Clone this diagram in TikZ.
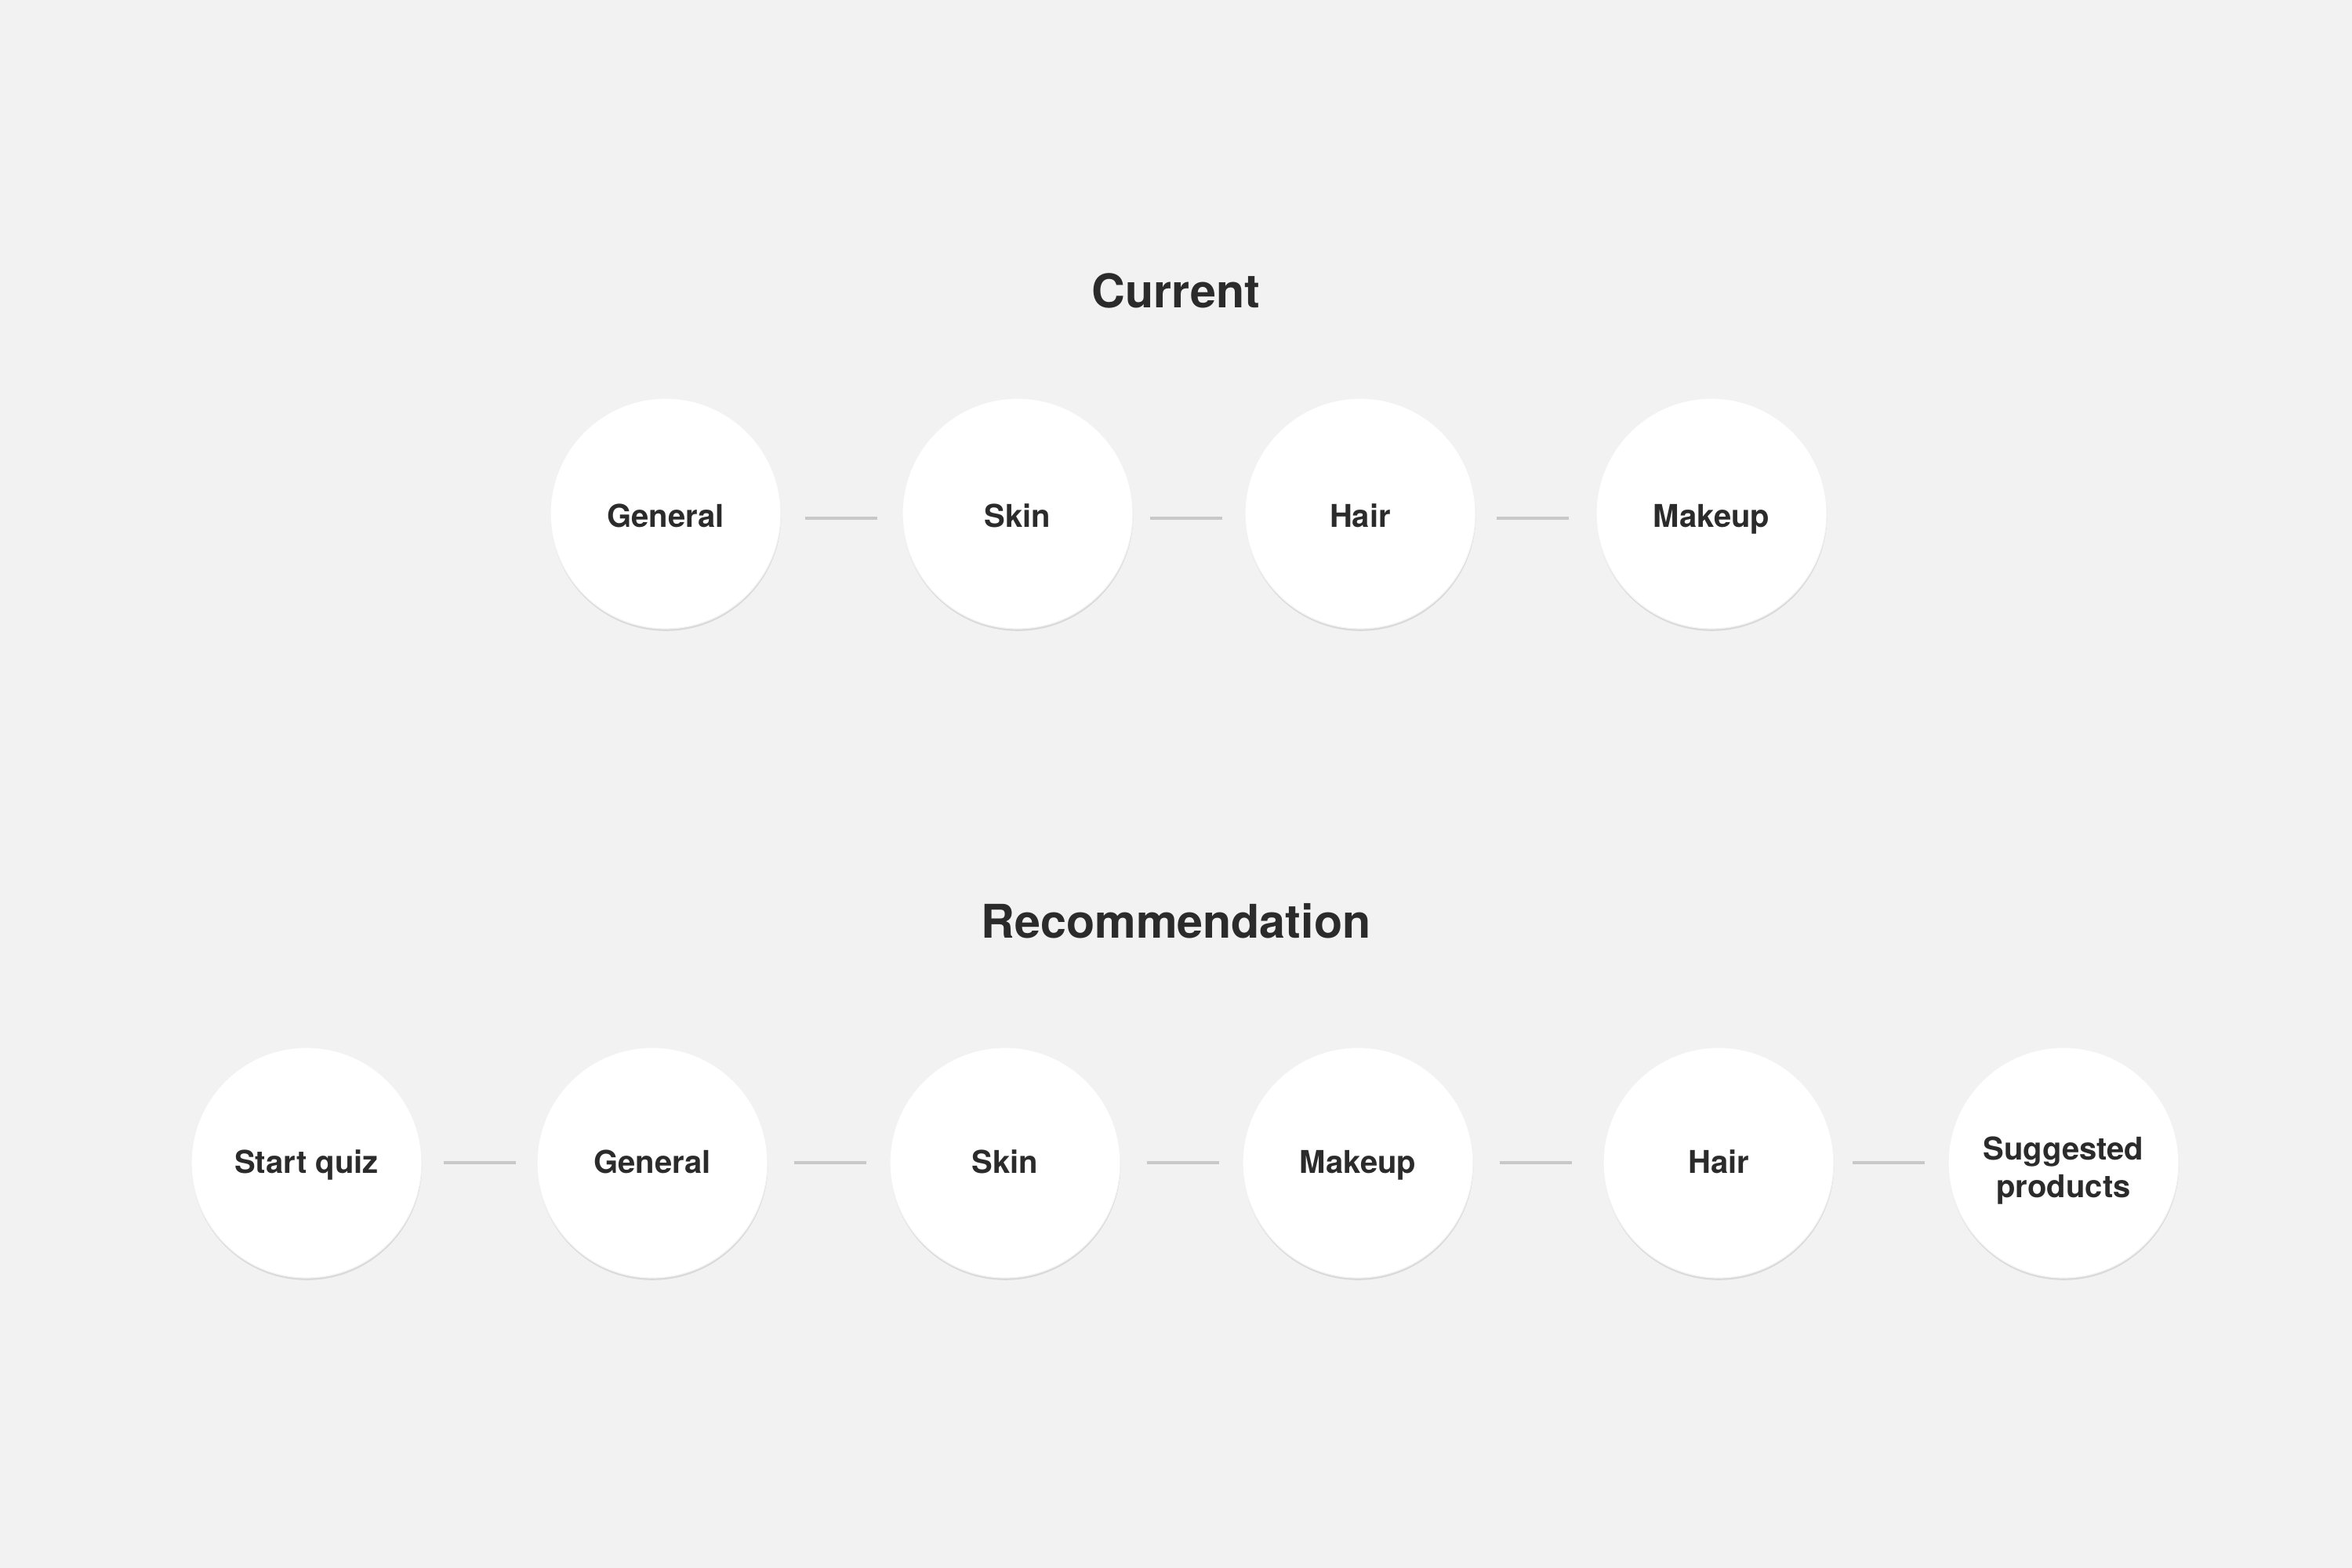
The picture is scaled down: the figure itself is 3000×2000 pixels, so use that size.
\documentclass[tikz,border=0pt]{standalone}
\usepackage{fontspec}
\setmainfont{TeX Gyre Heros}
\usetikzlibrary{shadows}
\definecolor{bg}{HTML}{F2F2F2}
\definecolor{ink}{HTML}{2B2B2B}
\definecolor{conn}{HTML}{C8C8C8}
\begin{document}
\begin{tikzpicture}[x=0.25pt,y=-0.25pt,
  stepnode/.style={circle, fill=white, draw=black!5, line width=0.3pt,
    minimum size=73.5pt, inner sep=0pt, text=ink,
    font=\fontsize{10}{12}\selectfont\bfseries,
    text height=6.5pt, text depth=0pt, align=center,
    drop shadow={shadow xshift=0.1pt, shadow yshift=-0.7pt, opacity=0.1, fill=black}},
  toprow/.style={text height=8.5pt},
  twoline/.style={text height=22pt},
  title/.style={text=ink, font=\fontsize{14.8}{16}\selectfont\bfseries, anchor=base, inner sep=0pt},
  link/.style={draw=conn, line width=1pt}]
\fill[bg] (0,0) rectangle (3000,2000);
\useasboundingbox (0,0) rectangle (3000,2000);

% titles
\node[title] (tcur) at (1500,393) {Current};
\node[title] (trec) at (1500,1196) {Recommendation};

% current row
\node[stepnode, toprow] (g1) at (849,655) {General};
\node[stepnode, toprow] (s1) at (1298,655) {Skin};
\node[stepnode, toprow] (h1) at (1735,655) {Hair};
\node[stepnode, toprow] (m1) at (2183,655) {Makeup};

\draw[link, shorten <=7.5pt, shorten >=7.75pt] ([yshift=-1.5pt]g1.east) -- ([yshift=-1.5pt]s1.west);
\draw[link, shorten <=5.25pt, shorten >=7pt] ([yshift=-1.5pt]s1.east) -- ([yshift=-1.5pt]h1.west);
\draw[link, shorten <=6.5pt, shorten >=8.5pt] ([yshift=-1.5pt]h1.east) -- ([yshift=-1.5pt]m1.west);

% recommendation row
\node[stepnode] (q2) at (391,1483) {Start quiz};
\node[stepnode] (g2) at (832,1483) {General};
\node[stepnode] (s2) at (1282,1483) {Skin};
\node[stepnode] (m2) at (1732,1483) {Makeup};
\node[stepnode] (h2) at (2192,1483) {Hair};
\node[stepnode, twoline] (p2) at (2632,1483) {Suggested\\products};

\draw[link, shorten <=6.75pt, shorten >=6.5pt] (q2.east) -- (g2.west);
\draw[link, shorten <=8.25pt, shorten >=7.25pt] (g2.east) -- (s2.west);
\draw[link, shorten <=8.25pt, shorten >=7.25pt] (s2.east) -- (m2.west);
\draw[link, shorten <=8.25pt, shorten >=9.75pt] (m2.east) -- (h2.west);
\draw[link, shorten <=5.75pt, shorten >=7.25pt] (h2.east) -- (p2.west);
\end{tikzpicture}
\end{document}
